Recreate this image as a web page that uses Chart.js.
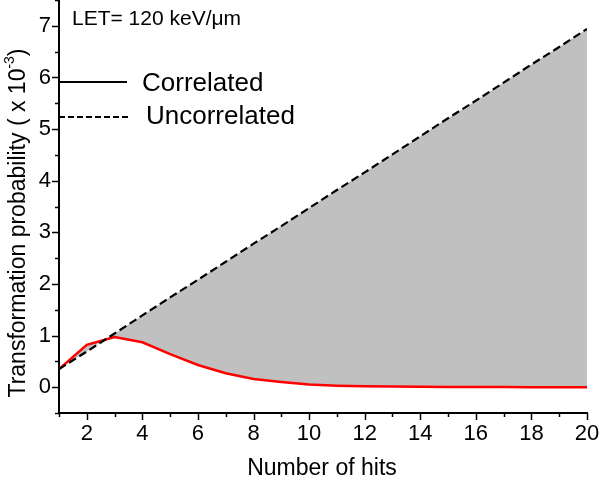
<!DOCTYPE html>
<html>
<head>
<meta charset="utf-8">
<script src="https://cdn.jsdelivr.net/npm/chart.js@4/dist/chart.umd.min.js"></script>
<style>
  html, body { margin: 0; padding: 0; background: #fff; }
  #wrap { width: 600px; height: 481px; }
</style>
</head>
<body>
<div id="wrap"><canvas id="hitsChart" width="600" height="481"></canvas></div>
<script>
// Number of hits
const hits = [1, 2, 3, 4, 5, 6, 7, 8, 9, 10, 11, 12, 13, 14, 15, 16, 17, 18, 19, 20];
// Transformation probability (x 10^-3)
const correlated = [0.35, 0.82, 0.97, 0.87, 0.64, 0.43, 0.27, 0.16, 0.10, 0.05,
                    0.03, 0.02, 0.012, 0.008, 0.005, 0.003, 0.002, 0.001, 0.001, 0.0];
const uncorrelated = [0.35, 0.69, 1.04, 1.39, 1.74, 2.08, 2.43, 2.78, 3.12, 3.47,
                      3.82, 4.16, 4.51, 4.86, 5.21, 5.55, 5.90, 6.25, 6.59, 6.94];
const legendLabels = ['Correlated', 'Uncorrelated'];
const annotation = 'LET= 120 keV/\u03BCm';

const FONT = "'Liberation Sans', Arial, sans-serif";

// minor / major tick marks, titles and the hand placed legend
const decorations = {
  id: 'decorations',
  afterDraw(chart) {
    const ctx = chart.ctx;
    const x = chart.scales.x;
    const y = chart.scales.y;
    const area = chart.chartArea;
    ctx.save();
    ctx.strokeStyle = '#000';
    ctx.lineWidth = 1.5;

    // y ticks
    y.ticks.forEach(t => {
      const py = Math.round(y.getPixelForValue(t.value)) + 0.5;
      const len = Number.isInteger(t.value) ? 7 : 4;
      ctx.beginPath();
      ctx.moveTo(area.left, py);
      ctx.lineTo(area.left - len, py);
      ctx.stroke();
    });
    // x ticks
    x.ticks.forEach(t => {
      const px = Math.round(x.getPixelForValue(t.value)) + 0.5;
      const len = t.value % 2 === 0 ? 7 : 4;
      ctx.beginPath();
      ctx.moveTo(px, area.bottom);
      ctx.lineTo(px, area.bottom + len);
      ctx.stroke();
    });

    ctx.fillStyle = '#000';
    // x title
    ctx.font = '23px ' + FONT;
    ctx.textAlign = 'center';
    ctx.textBaseline = 'middle';
    ctx.fillText('Number of hits', 322, 469);

    // y title with superscript
    ctx.save();
    ctx.translate(19, 0);
    ctx.rotate(-Math.PI / 2);
    const main = 'Transformation probability ( x 10';
    const sup = '-3';
    const close = ')';
    ctx.font = '23px ' + FONT;
    const wMain = ctx.measureText(main).width;
    const wClose = ctx.measureText(close).width;
    ctx.font = '14px ' + FONT;
    const wSup = ctx.measureText(sup).width;
    const total = wMain + wSup + wClose;
    const start = -223 - total / 2;
    ctx.textAlign = 'left';
    ctx.textBaseline = 'middle';
    ctx.font = '23px ' + FONT;
    ctx.fillText(main, start, 0);
    ctx.font = '14px ' + FONT;
    ctx.fillText(sup, start + wMain, -9);
    ctx.font = '23px ' + FONT;
    ctx.fillText(close, start + wMain + wSup, 0);
    ctx.restore();

    // annotation
    ctx.font = '21px ' + FONT;
    ctx.textAlign = 'left';
    ctx.fillText(annotation, 72, 19);

    // legend
    ctx.lineWidth = 2;
    ctx.beginPath();
    ctx.moveTo(area.left, 82);
    ctx.lineTo(127, 82);
    ctx.stroke();
    ctx.setLineDash([6, 3]);
    ctx.beginPath();
    ctx.moveTo(area.left, 117);
    ctx.lineTo(128, 117);
    ctx.stroke();
    ctx.setLineDash([]);
    ctx.font = '26px ' + FONT;
    ctx.fillText(legendLabels[0], 142, 84);
    ctx.fillText(legendLabels[1], 146, 117);
    ctx.restore();
  }
};

const chart = new Chart(document.getElementById('hitsChart'), {
  type: 'line',
  data: {
    labels: hits,
    datasets: [
      {
        label: legendLabels[1],
        data: hits.map((h, i) => ({ x: h, y: uncorrelated[i] })),
        borderColor: '#000',
        borderWidth: 2.2,
        borderDash: [8, 4],
        pointRadius: 0,
        tension: 0,
        fill: false
      },
      {
        label: legendLabels[0],
        data: hits.map((h, i) => ({ x: h, y: correlated[i] })),
        borderColor: '#ff0000',
        borderWidth: 2.5,
        pointRadius: 0,
        tension: 0,
        fill: { target: 0 },
        backgroundColor: '#c0c0c0'
      }
    ]
  },
  options: {
    responsive: false,
    animation: false,
    layout: { padding: { top: 0, right: 13, bottom: 0, left: 0 } },
    plugins: {
      legend: { display: false },
      tooltip: { enabled: false },
      filler: { propagate: false }
    },
    scales: {
      x: {
        type: 'linear',
        min: 1,
        max: 20,
        afterFit(scale) {
          scale.height = 68;
          scale.paddingLeft = 0;
          scale.paddingRight = 0;
        },
        border: { display: true, color: '#000', width: 2 },
        grid: { display: false, drawTicks: false },
        ticks: {
          stepSize: 1,
          padding: 8,
          color: '#000',
          font: { size: 22, family: FONT },
          maxRotation: 0,
          autoSkip: false,
          callback: v => (v % 2 === 0 ? v : '')
        }
      },
      y: {
        min: -0.5,
        max: 7.5,
        afterFit(scale) {
          scale.width = 59;
          scale.paddingTop = 0;
          scale.paddingBottom = 0;
        },
        border: { display: true, color: '#000', width: 2 },
        grid: { display: false, drawTicks: false },
        ticks: {
          stepSize: 0.5,
          padding: 8,
          color: '#000',
          font: { size: 22, family: FONT },
          autoSkip: false,
          callback: v => (Number.isInteger(v) ? v : '')
        }
      }
    }
  },
  plugins: [decorations]
});
</script>
</body>
</html>
